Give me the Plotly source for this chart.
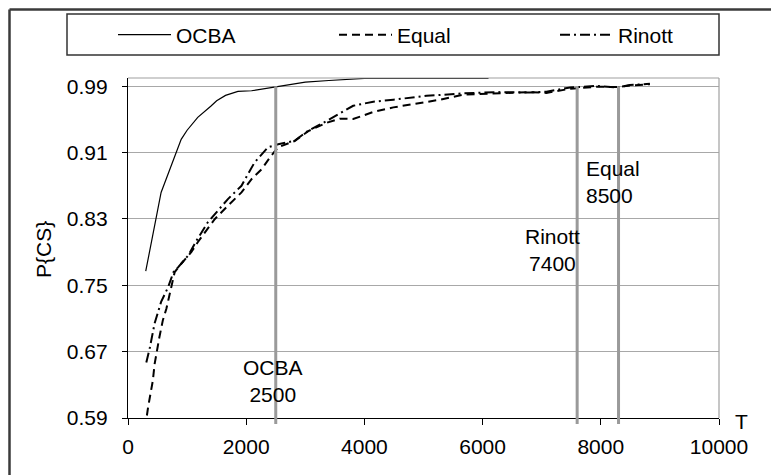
import plotly.graph_objects as go

# ---------------- data ----------------
ocba_T = [300, 370, 400, 500, 560, 700, 800, 900, 1000, 1180, 1400, 1500, 1650, 1860, 2090, 2300, 2510, 2740, 3000, 3400, 3760, 4000, 5000, 6100]
ocba_P = [0.767, 0.794, 0.805, 0.84, 0.862, 0.889, 0.909, 0.926, 0.937, 0.9526, 0.966, 0.9726, 0.979, 0.9839, 0.9846, 0.987, 0.990, 0.9927, 0.9950, 0.997, 0.9985, 0.9995, 0.9995, 0.9995]

equal_T = [320, 340, 420, 450, 530, 590, 650, 730, 790, 900, 1070, 1180, 1350, 1470, 1690, 1920, 2090, 2260, 2420, 2540, 2820, 3050, 3360, 3590, 3810, 4150, 4490, 5050, 5280, 5670, 6240, 6800, 7080, 7480, 7930, 8270, 8490, 8830]
equal_P = [0.593, 0.603, 0.635, 0.655, 0.687, 0.708, 0.722, 0.748, 0.766, 0.776, 0.790, 0.802, 0.818, 0.830, 0.846, 0.862, 0.878, 0.890, 0.906, 0.9165, 0.924, 0.936, 0.946, 0.951, 0.9505, 0.959, 0.9646, 0.9706, 0.9738, 0.980, 0.9815, 0.983, 0.982, 0.987, 0.9895, 0.989, 0.991, 0.9925]

rinott_T = [310, 370, 450, 560, 680, 770, 850, 1020, 1160, 1350, 1690, 1920, 2140, 2370, 2540, 2820, 3050, 3360, 3810, 4150, 4490, 5050, 5280, 5670, 6240, 6800, 7080, 7480, 7930, 8270, 8490, 8830]
rinott_P = [0.657, 0.675, 0.704, 0.730, 0.748, 0.766, 0.772, 0.786, 0.804, 0.826, 0.854, 0.870, 0.898, 0.9165, 0.920, 0.9244, 0.9365, 0.948, 0.9665, 0.9714, 0.9738, 0.9786, 0.9795, 0.9815, 0.983, 0.9825, 0.9835, 0.9885, 0.9905, 0.9885, 0.9915, 0.993]

vline_T = [2500, 7600, 8300]
vline_top = 0.99

y_ticks = [0.59, 0.67, 0.75, 0.83, 0.91, 0.99]
x_ticks = [0, 2000, 4000, 6000, 8000, 10000]

# ---------------- layout geometry ----------------
# The page places the figure 8px in from the window's top-left corner,
# so the figure is laid out in window (screen) coordinates minus OFF.
W, H = 779, 475
OFF = 8
PLOT_L, PLOT_R, PLOT_T, PLOT_B = 128, 719, 78, 418   # screen pixels of the plot area
L = PLOT_L - OFF
T_ = PLOT_T - OFF
PW = PLOT_R - PLOT_L
PH = PLOT_B - PLOT_T
R = W - L - PW
B = H - T_ - PH
Y0, Y1 = 0.59, 1.0

def sx(Xs):
    return (Xs - PLOT_L) / PW

def sy(Ys):
    return (PLOT_B - Ys) / PH

FONT = "Liberation Sans, Arial, sans-serif"
FS = 21

fig = go.Figure()
fig.add_trace(go.Scatter(x=ocba_T, y=ocba_P, mode="lines", name="OCBA",
                         line=dict(color="black", width=1.2)))
fig.add_trace(go.Scatter(x=equal_T, y=equal_P, mode="lines", name="Equal",
                         line=dict(color="black", width=2, dash="8px,5px")))
fig.add_trace(go.Scatter(x=rinott_T, y=rinott_P, mode="lines", name="Rinott",
                         line=dict(color="black", width=2, dash="10px,4px,2px,4px")))

shapes = []
# vertical threshold lines
ptop = (vline_top - Y0) / (Y1 - Y0)
for t in vline_T:
    shapes.append(dict(type="line", xref="x", yref="paper", x0=t, x1=t,
                       y0=sy(424), y1=ptop, line=dict(color="#9a9a9a", width=3), layer="above"))
# legend box
shapes.append(dict(type="rect", xref="paper", yref="paper",
                   x0=sx(67), x1=sx(719), y0=sy(55), y1=sy(14),
                   line=dict(color="#333333", width=1.5)))
# outer chart border (left and top visible)
shapes.append(dict(type="line", xref="paper", yref="paper", x0=sx(9.5), x1=sx(9.5),
                   y0=sy(H + 20), y1=sy(9.5), line=dict(color="#3a3a3a", width=2.5)))
shapes.append(dict(type="line", xref="paper", yref="paper", x0=sx(9.5), x1=sx(W + 20),
                   y0=sy(9.5), y1=sy(9.5), line=dict(color="#3a3a3a", width=2.5)))
# plot area border (top and right, gray)
shapes.append(dict(type="line", xref="paper", yref="paper", x0=0, x1=1, y0=1, y1=1,
                   line=dict(color="#a0a0a0", width=1.2)))
shapes.append(dict(type="line", xref="paper", yref="paper", x0=1, x1=1, y0=0, y1=1,
                   line=dict(color="#a0a0a0", width=1.2)))

annotations = [
    dict(text="OCBA<br>2500", x=2450, y=0.635, xref="x", yref="y", showarrow=False,
         xanchor="center", yanchor="middle",
         font=dict(size=FS, color="black", family=FONT), align="center"),
    dict(text="Rinott<br>7400", x=7190, y=0.792, xref="x", yref="y", showarrow=False,
         xanchor="center", yanchor="middle",
         font=dict(size=FS, color="black", family=FONT), align="center"),
    dict(text="Equal<br>8500", x=7716, y=0.874, xref="x", yref="y", showarrow=False,
         xanchor="left", yanchor="middle",
         font=dict(size=FS, color="black", family=FONT), align="left"),
    dict(text="T", x=sx(741), y=sy(421), xref="paper", yref="paper", showarrow=False,
         xanchor="center", yanchor="middle",
         font=dict(size=FS, color="black", family=FONT)),
    dict(text="P{CS}", x=sx(43), y=sy(250), xref="paper", yref="paper", showarrow=False,
         xanchor="center", yanchor="middle",
         textangle=-90, font=dict(size=FS, color="black", family=FONT)),
]

fig.update_layout(
    width=W, height=H,
    margin=dict(l=L, r=R, t=T_, b=B, pad=0, autoexpand=False),
    paper_bgcolor="white", plot_bgcolor="white",
    font=dict(family=FONT, size=FS, color="black"),
    showlegend=True,
    legend=dict(orientation="h", x=sx(113), y=sy(35), xanchor="left", yanchor="middle",
                bgcolor="rgba(0,0,0,0)", borderwidth=0, entrywidth=153,
                itemwidth=53, font=dict(size=FS, family=FONT)),
    shapes=shapes,
    annotations=annotations,
    xaxis=dict(range=[0, 10000], tickvals=x_ticks, ticktext=[str(v) for v in x_ticks],
               showgrid=False, zeroline=False, showline=True, linecolor="black", linewidth=1.2,
               ticks="outside", ticklen=6, tickcolor="black", tickwidth=1,
               tickfont=dict(size=FS, family=FONT), ticklabelstandoff=4),
    yaxis=dict(range=[Y0, Y1], tickvals=y_ticks, ticktext=[f"{v:.2f}" for v in y_ticks],
               showgrid=True, gridcolor="#a8a8a8", gridwidth=1.2, zeroline=False,
               showline=True, linecolor="black", linewidth=1.2,
               ticks="outside", ticklen=5, tickcolor="black", tickwidth=1,
               tickfont=dict(size=FS, family=FONT), ticklabelstandoff=10),
)

fig.write_html("out.html")
